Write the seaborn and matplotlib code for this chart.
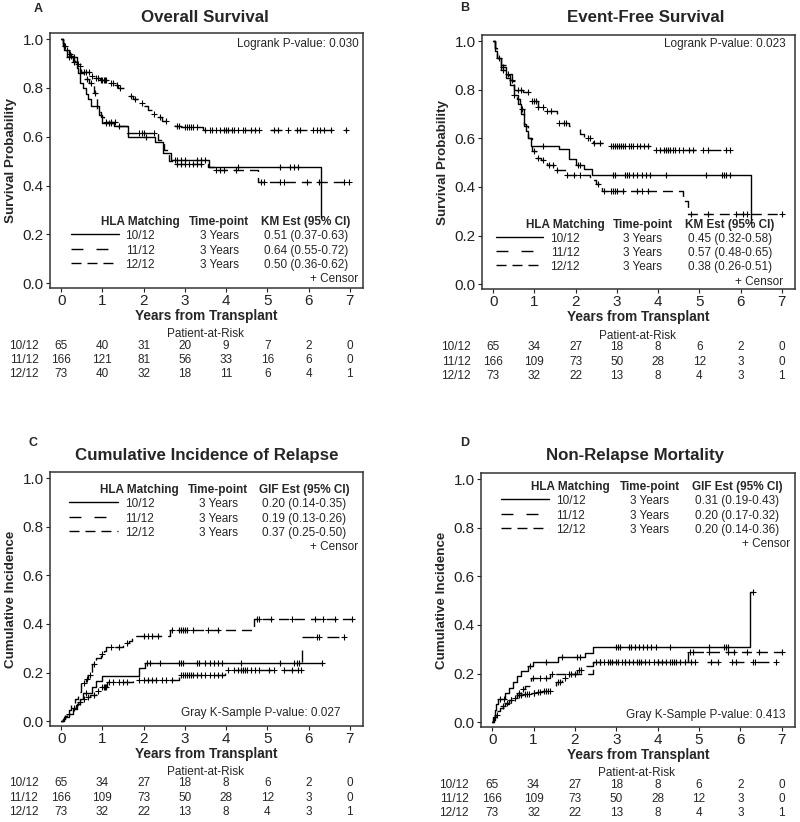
import numpy as np
import pandas as pd
import matplotlib
matplotlib.use("Agg")
import matplotlib.pyplot as plt
import matplotlib.transforms as mtransforms
from matplotlib.ticker import FormatStrFormatter
import seaborn as sns

sns.set_style("ticks")
plt.rcParams['font.family'] = ['Liberation Sans', 'DejaVu Sans']

groups = ['10/12', '11/12', '12/12']
years = list(range(8))

# ---- A: overall survival (KM) ----
os_10_t = [0, 0.04, 0.08, 0.15, 0.28, 0.38, 0.42, 0.46, 0.52, 0.60, 0.66, 0.72, 0.92, 1.00, 1.28, 1.62, 2.28, 2.46, 2.67, 3.58, 6.29]
os_10_s = [1.0, 0.985, 0.955, 0.925, 0.905, 0.88, 0.86, 0.82, 0.80, 0.775, 0.755, 0.725, 0.69, 0.655, 0.643, 0.60, 0.578, 0.533, 0.505, 0.477, 0.265]
os_10_c = [0.2, 0.3, 1.1, 1.15, 1.2, 1.4, 2.05, 2.75, 2.8, 2.9, 3.0, 3.3, 3.4, 3.5, 4.3, 5.3, 5.55, 5.65, 5.75]
os_11_t = [0, 0.05, 0.12, 0.2, 0.3, 0.4, 0.48, 0.72, 0.78, 0.95, 1.15, 1.28, 1.38, 1.55, 1.75, 1.88, 2.0, 2.1, 2.2, 2.32, 2.45, 2.6, 2.75, 2.9, 3.45]
os_11_s = [1.0, 0.97, 0.95, 0.93, 0.91, 0.89, 0.865, 0.85, 0.84, 0.833, 0.82, 0.81, 0.80, 0.765, 0.755, 0.74, 0.725, 0.71, 0.695, 0.68, 0.665, 0.655, 0.645, 0.64, 0.627]
os_11_c = [0.1, 0.25, 0.45, 0.55, 0.6, 0.68, 0.75, 0.85, 0.9, 0.97, 1.0, 1.03, 1.06, 1.1, 1.2, 1.25, 1.35, 1.42, 1.7, 1.8, 1.95,
           2.25, 2.4, 2.55, 2.8, 2.85, 3.0, 3.05, 3.1, 3.15, 3.2, 3.3, 3.5, 3.6, 3.65, 3.75, 3.85, 3.95, 4.0, 4.05, 4.15,
           4.2, 4.3, 4.4, 4.45, 4.6, 4.7, 4.8, 5.15, 5.25, 5.5, 5.72, 5.8, 6.1, 6.2, 6.28, 6.37, 6.55, 6.9]
os_12_t = [0, 0.05, 0.12, 0.2, 0.28, 0.38, 0.45, 0.55, 0.68, 0.8, 0.88, 0.97, 1.05, 1.35, 1.6, 2.35, 2.5, 2.62, 2.7, 3.55, 3.7, 4.77]
os_12_s = [1.0, 0.97, 0.955, 0.94, 0.925, 0.9, 0.86, 0.835, 0.82, 0.78, 0.70, 0.68, 0.66, 0.645, 0.615, 0.585, 0.545, 0.50, 0.49, 0.475, 0.463, 0.415]
os_12_c = [0.15, 0.22, 0.32, 0.42, 0.62, 0.72, 0.83, 1.1, 1.2, 1.3, 1.9, 1.95, 2.0, 2.25, 2.8, 2.9, 3.0, 3.1, 3.2, 3.3, 3.4,
           3.75, 3.85, 3.95, 4.25, 4.85, 4.92, 5.3, 5.4, 5.95, 6.25, 6.85, 6.97]
os_end = [6.29, 6.93, 6.97]

# ---- B: event-free survival (KM) ----
efs_10_t = [0, 0.05, 0.1, 0.2, 0.3, 0.4, 0.5, 0.6, 0.68, 0.75, 0.8, 0.85, 0.92, 1.6, 1.84, 2.0, 2.2, 2.4, 6.25]
efs_10_s = [1.0, 0.96, 0.93, 0.88, 0.85, 0.82, 0.78, 0.74, 0.70, 0.66, 0.63, 0.60, 0.57, 0.555, 0.513, 0.49, 0.475, 0.45, 0.25]
efs_10_c = [0.25, 0.5, 1.2, 2.05, 2.1, 2.9, 2.95, 3.2, 3.25, 3.3, 3.4, 3.5, 3.6, 3.7, 3.8, 4.2, 5.15, 5.55, 5.6, 5.65, 5.75]
efs_11_t = [0, 0.04, 0.1, 0.2, 0.3, 0.45, 0.58, 0.72, 0.9, 1.1, 1.25, 1.55, 1.85, 1.97, 2.1, 2.2, 2.42, 2.75, 3.85]
efs_11_s = [1.0, 0.97, 0.93, 0.90, 0.865, 0.835, 0.80, 0.79, 0.754, 0.73, 0.712, 0.664, 0.65, 0.637, 0.616, 0.60, 0.582, 0.568, 0.553]
efs_11_c = [0.35, 0.6, 0.68, 0.85, 0.95, 1.0, 1.05, 1.1, 1.2, 1.3, 1.4, 1.6, 1.72, 1.76, 2.3, 2.35, 2.45, 2.6, 2.85, 2.9,
            2.95, 3.0, 3.05, 3.1, 3.15, 3.2, 3.3, 3.35, 3.4, 3.5, 3.55, 3.65, 3.75, 3.95, 4.05, 4.15, 4.2, 4.25, 4.3,
            4.35, 4.4, 4.5, 4.6, 4.75, 4.85, 5.1, 5.2, 5.65, 5.75]
efs_12_t = [0, 0.04, 0.1, 0.2, 0.3, 0.4, 0.5, 0.58, 0.65, 0.75, 0.85, 0.95, 1.05, 1.15, 1.3, 1.48, 1.75, 2.35, 2.5, 2.65, 4.6, 4.73]
efs_12_s = [1.0, 0.97, 0.93, 0.895, 0.86, 0.84, 0.80, 0.76, 0.72, 0.65, 0.60, 0.548, 0.52, 0.51, 0.49, 0.47, 0.45, 0.43, 0.41, 0.384, 0.34, 0.288]
efs_12_c = [0.15, 0.25, 0.45, 0.7, 1.0, 1.1, 1.2, 1.35, 1.45, 1.55, 1.8, 1.95, 2.1, 2.55, 2.7, 2.85, 2.9, 2.95, 3.0,
            3.15, 3.5, 3.6, 3.75, 4.8, 5.2, 5.9, 6.05, 6.15, 7.0]
efs_end = [6.25, 5.8, 7.0]

# ---- C: cumulative incidence of relapse ----
cir_10_t = [0, 0.08, 0.18, 0.28, 0.38, 0.45, 0.52, 0.75, 0.85, 0.98, 1.9, 2.04]
cir_10_s = [0, 0.015, 0.03, 0.05, 0.07, 0.09, 0.116, 0.14, 0.165, 0.185, 0.219, 0.241]
cir_10_c = [0.2, 0.6, 2.08, 2.15, 2.4, 2.85, 2.9, 2.95, 3.3, 3.35, 3.5, 3.6, 3.7, 3.8, 3.9, 4.35, 5.3, 5.65, 5.72, 5.78, 6.33]
cir_11_t = [0, 0.05, 0.1, 0.15, 0.2, 0.28, 0.35, 0.42, 0.5, 0.6, 0.7, 0.85, 0.95, 1.12, 1.75, 2.85, 3.98, 5.85]
cir_11_s = [0, 0.01, 0.02, 0.03, 0.04, 0.055, 0.065, 0.08, 0.09, 0.1, 0.107, 0.125, 0.14, 0.162, 0.171, 0.19, 0.21, 0.346]
cir_11_c = [0.3, 0.45, 0.55, 0.65, 0.8, 0.9, 1.0, 1.03, 1.06, 1.09, 1.15, 1.25, 1.4, 1.5, 1.6, 1.9, 2.0, 2.1, 2.2, 2.3,
            2.45, 2.55, 2.7, 2.9, 2.95, 3.0, 3.05, 3.1, 3.15, 3.2, 3.3, 3.4, 3.5, 3.6, 3.7, 3.8, 3.9, 4.05, 4.2, 4.3,
            4.35, 4.4, 4.45, 4.5, 4.6, 4.7, 4.8, 5.05, 5.15, 5.4, 5.6, 5.75, 5.82, 6.2, 6.25, 6.85]
cir_12_t = [0, 0.05, 0.1, 0.18, 0.25, 0.33, 0.4, 0.48, 0.6, 0.66, 0.74, 0.85, 0.97, 1.05, 1.1, 1.5, 1.65, 1.72, 2.63, 4.68]
cir_12_s = [0, 0.01, 0.025, 0.045, 0.07, 0.09, 0.12, 0.155, 0.175, 0.19, 0.237, 0.258, 0.278, 0.29, 0.305, 0.32, 0.33, 0.35, 0.374, 0.42]
cir_12_c = [0.55, 0.62, 0.7, 0.8, 1.0, 1.2, 1.4, 1.6, 2.0, 2.1, 2.2, 2.35, 2.7, 2.85, 2.9, 2.95, 3.0, 3.05, 3.2, 3.55,
            3.8, 4.74, 4.8, 5.1, 5.6, 6.15, 6.35, 6.65, 7.05]
cir_end = [6.33, 6.85, 7.05]

# ---- D: non-relapse mortality ----
nrm_10_t = [0, 0.03, 0.06, 0.1, 0.15, 0.3, 0.4, 0.5, 0.6, 0.7, 0.87, 0.99, 1.6, 2.24, 2.43, 6.24]
nrm_10_s = [0, 0.02, 0.05, 0.075, 0.095, 0.12, 0.14, 0.165, 0.19, 0.212, 0.23, 0.246, 0.266, 0.284, 0.308, 0.534]
nrm_10_c = [0.2, 0.28, 0.92, 1.3, 1.68, 2.05, 2.12, 3.0, 3.05, 3.1, 3.3, 3.35, 3.45, 3.55, 3.65, 3.75, 3.85, 3.95,
            4.3, 5.25, 5.6, 5.65, 5.7, 6.3]
nrm_11_t = [0, 0.03, 0.08, 0.15, 0.22, 0.3, 0.4, 0.5, 0.6, 0.75, 0.95, 1.05, 1.2, 1.55, 1.7, 1.85, 2.05, 2.2, 2.43]
nrm_11_s = [0, 0.01, 0.03, 0.05, 0.065, 0.08, 0.09, 0.1, 0.11, 0.115, 0.12, 0.125, 0.13, 0.165, 0.18, 0.2, 0.215, 0.23, 0.246]
nrm_11_c = [0.12, 0.25, 0.35, 0.45, 0.55, 0.65, 0.7, 0.8, 0.85, 0.9, 1.0, 1.02, 1.1, 1.15, 1.25, 1.3, 1.35, 1.4, 1.58,
            1.65, 1.75, 1.9, 2.0, 2.1, 2.15, 2.5, 2.6, 2.7, 2.8, 2.85, 2.9, 3.0, 3.05, 3.15, 3.2, 3.3, 3.4, 3.5, 3.55,
            3.6, 3.7, 3.8, 3.9, 4.0, 4.1, 4.2, 4.3, 4.35, 4.4, 4.45, 4.55, 4.65, 4.8, 4.9, 5.3, 5.45, 5.8, 5.9, 6.3,
            6.35, 6.85]
nrm_12_t = [0, 0.04, 0.1, 0.2, 0.3, 0.4, 0.5, 0.6, 0.7, 0.8, 0.95, 1.4, 2.43, 4.73]
nrm_12_s = [0, 0.02, 0.045, 0.06, 0.075, 0.09, 0.1, 0.12, 0.135, 0.15, 0.18, 0.2, 0.246, 0.29]
nrm_12_c = [0.45, 0.65, 0.75, 0.98, 1.15, 1.3, 1.45, 1.85, 2.6, 3.2, 4.0, 4.78, 4.85, 5.25, 5.7, 5.85, 6.15, 6.45, 7.0]
nrm_end = [6.3, 6.85, 7.0]

# ---- patients at risk ----
risk_os = [[65, 40, 31, 20, 9, 7, 2, 0], [166, 121, 81, 56, 33, 16, 6, 0], [73, 40, 32, 18, 11, 6, 4, 1]]
risk_rest = [[65, 34, 27, 18, 8, 6, 2, 0], [166, 109, 73, 50, 28, 12, 3, 0], [73, 32, 22, 13, 8, 4, 3, 1]]

# ---- legend tables ----
os_est = ['0.51 (0.37-0.63)', '0.64 (0.55-0.72)', '0.50 (0.36-0.62)']
efs_est = ['0.45 (0.32-0.58)', '0.57 (0.48-0.65)', '0.38 (0.26-0.51)']
cir_est = ['0.20 (0.14-0.35)', '0.19 (0.13-0.26)', '0.37 (0.25-0.50)']
nrm_est = ['0.31 (0.19-0.43)', '0.20 (0.17-0.32)', '0.20 (0.14-0.36)']

line_dashes = {'10/12': '', '11/12': (8.6, 9.4), '12/12': (7.2, 4.3)}
FS = 8.5

W, H = 800, 822
fig = plt.figure(figsize=(W / 100, H / 100), dpi=100)


def px_axes(left, top, right, bottom):
    return fig.add_axes([left / W, 1 - bottom / H, (right - left) / W, (bottom - top) / H])


def draw_curves(ax, times, vals, cens, ends):
    parts, cparts = [], []
    for g, t, s, c, e in zip(groups, times, vals, cens, ends):
        parts.append(pd.DataFrame({'x': list(t) + [e], 'y': list(s) + [s[-1]], 'group': g}))
        t_arr, s_arr = np.array(t), np.array(s)
        idx = np.searchsorted(t_arr, np.array(c), side='right') - 1
        cparts.append(pd.DataFrame({'x': c, 'y': s_arr[idx]}))
    df = pd.concat(parts, ignore_index=True)
    cdf = pd.concat(cparts, ignore_index=True)
    sns.lineplot(data=df, x='x', y='y', style='group', dashes=line_dashes, color='black',
                 drawstyle='steps-post', estimator=None, sort=False, legend=False,
                 linewidth=1.0, ax=ax)
    sns.scatterplot(data=cdf, x='x', y='y', marker='+', color='black', s=14,
                    linewidth=0.8, legend=False, ax=ax)


def style_axes(ax, ylabel):
    ax.set_xlim(-0.27, 7.32)
    ax.set_ylim(-0.02, 1.025)
    ax.set_xticks(years)
    ax.set_yticks([0, 0.2, 0.4, 0.6, 0.8, 1.0])
    ax.yaxis.set_major_formatter(FormatStrFormatter('%.1f'))
    ax.tick_params(direction='out', length=3, width=0.8, labelsize=11, pad=1.5, colors='#222222')
    for sp in ax.spines.values():
        sp.set_visible(True)
        sp.set_linewidth(1.1)
        sp.set_color('#333333')
    ax.set_xlabel('Years from Transplant', fontsize=9.8, fontweight='bold')
    ax.set_ylabel(ylabel, fontsize=9.6, fontweight='bold')
    ax.xaxis.set_label_coords(0.5, -0.082)
    ax.yaxis.set_label_coords(-0.105, 0.5)


def legend_table(ax, est, est_head, xs, line_x, ys, censor_xy):
    header = ['HLA Matching', 'Time-point', est_head]
    for x, h in zip(xs, header):
        ax.text(x, ys[0], h, transform=ax.transAxes, ha='center', va='center', fontsize=FS, fontweight='bold')
    for i, g in enumerate(groups):
        y = ys[i + 1]
        ax.plot(line_x, [y + 0.008, y + 0.008], transform=ax.transAxes, color='black', linewidth=1.0,
                linestyle='-' if line_dashes[g] == '' else (0, line_dashes[g]))
        ax.text(xs[0], y, g, transform=ax.transAxes, ha='center', va='center', fontsize=FS)
        ax.text(xs[1], y, '3 Years', transform=ax.transAxes, ha='center', va='center', fontsize=FS)
        ax.text(xs[2], y, est[i], transform=ax.transAxes, ha='center', va='center', fontsize=FS)
    ax.text(censor_xy[0], censor_xy[1], '+ Censor', transform=ax.transAxes, ha='right', va='center', fontsize=FS)


def risk_table(ax, risk, label_x, par_y, row_ys):
    tr = mtransforms.blended_transform_factory(ax.transData, fig.transFigure)
    ax.text(3.5, 1 - par_y / H, 'Patient-at-Risk', transform=tr, ha='center', va='center', fontsize=FS, clip_on=False)
    for g, row, ry in zip(groups, risk, row_ys):
        ax.text(label_x, 1 - ry / H, g, transform=tr, ha='center', va='center', fontsize=FS, clip_on=False)
        for yr, n in zip(years, row):
            ax.text(yr, 1 - ry / H, str(n), transform=tr, ha='center', va='center', fontsize=FS, clip_on=False)


# ---- panel A ----
axA = px_axes(50, 33, 363, 288)
draw_curves(axA, [os_10_t, os_11_t, os_12_t], [os_10_s, os_11_s, os_12_s], [os_10_c, os_11_c, os_12_c], os_end)
style_axes(axA, 'Survival Probability')
axA.text(0.985, 0.956, 'Logrank P-value: 0.030', transform=axA.transAxes, ha='right', va='center', fontsize=FS)
legend_table(axA, os_est, 'KM Est (95% CI)', [0.288, 0.540, 0.818], [0.067, 0.220],
             [0.259, 0.204, 0.146, 0.090], (0.985, 0.035))
risk_table(axA, risk_os, -0.9, 334, [346, 360, 374])

# ---- panel B ----
axB = px_axes(482, 35, 795, 289)
draw_curves(axB, [efs_10_t, efs_11_t, efs_12_t], [efs_10_s, efs_11_s, efs_12_s], [efs_10_c, efs_11_c, efs_12_c], efs_end)
style_axes(axB, 'Survival Probability')
axB.text(0.971, 0.963, 'Logrank P-value: 0.023', transform=axB.transAxes, ha='right', va='center', fontsize=FS)
legend_table(axB, efs_est, 'KM Est (95% CI)', [0.265, 0.514, 0.792], [0.045, 0.195],
             [0.252, 0.197, 0.142, 0.087], (0.962, 0.028))
risk_table(axB, risk_rest, -0.9, 336, [347, 362, 376])

# ---- panel C ----
axC = px_axes(50, 472, 363, 726)
draw_curves(axC, [cir_10_t, cir_11_t, cir_12_t], [cir_10_s, cir_11_s, cir_12_s], [cir_10_c, cir_11_c, cir_12_c], cir_end)
style_axes(axC, 'Cumulative Incidence')
axC.text(0.929, 0.051, 'Gray K-Sample P-value: 0.027', transform=axC.transAxes, ha='right', va='center', fontsize=FS)
legend_table(axC, cir_est, 'GIF Est (95% CI)', [0.286, 0.537, 0.813], [0.061, 0.217],
             [0.929, 0.874, 0.816, 0.760], (0.984, 0.705))
risk_table(axC, risk_rest, -0.91, 772, [783, 798, 812])

# ---- panel D ----
axD = px_axes(481, 473, 795, 727)
draw_curves(axD, [nrm_10_t, nrm_11_t, nrm_12_t], [nrm_10_s, nrm_11_s, nrm_12_s], [nrm_10_c, nrm_11_c, nrm_12_c], nrm_end)
style_axes(axD, 'Cumulative Incidence')
axD.text(0.970, 0.047, 'Gray K-Sample P-value: 0.413', transform=axD.transAxes, ha='right', va='center', fontsize=FS)
legend_table(axD, nrm_est, 'GIF Est (95% CI)', [0.286, 0.537, 0.815], [0.064, 0.217],
             [0.945, 0.890, 0.832, 0.776], (0.984, 0.720))
risk_table(axD, risk_rest, -0.92, 773, [785, 799, 813])

# ---- titles and panel letters ----
for (lx, ly, letter), (tx, ty, title) in zip(
        [(38, 9, 'A'), (465, 8, 'B'), (33, 443, 'C'), (465, 443, 'D')],
        [(205, 17, 'Overall Survival'), (646, 17, 'Event-Free Survival'),
         (207, 455, 'Cumulative Incidence of Relapse'), (635, 455, 'Non-Relapse Mortality')]):
    fig.text(lx / W, 1 - ly / H, letter, ha='center', va='center', fontsize=9, fontweight='bold')
    fig.text(tx / W, 1 - ty / H, title, ha='center', va='center', fontsize=12.2, fontweight='bold')

fig.savefig('out.png', dpi=100)
